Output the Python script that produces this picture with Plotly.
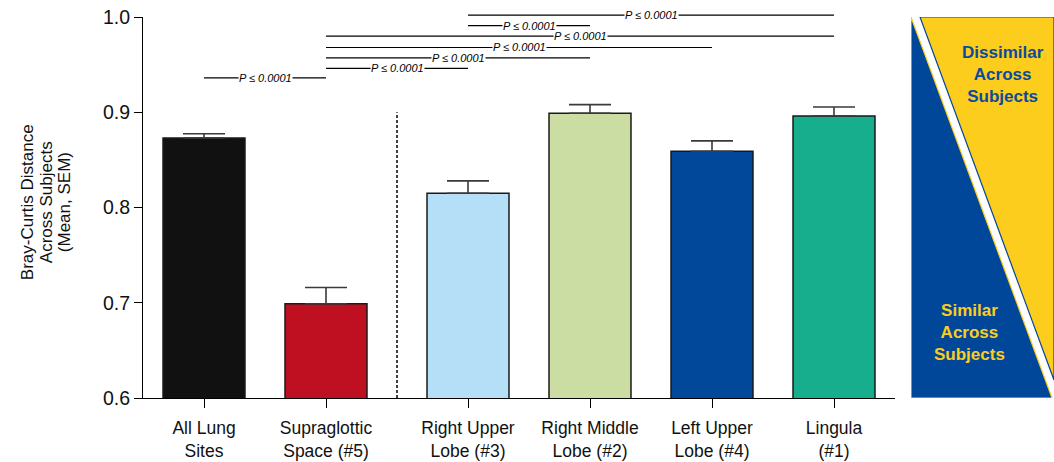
import plotly.graph_objects as go

# Sampling sites, mean Bray-Curtis distance across subjects and SEM
sites = ["All Lung<br>Sites", "Supraglottic<br>Space (#5)", "Right Upper<br>Lobe (#3)",
         "Right Middle<br>Lobe (#2)", "Left Upper<br>Lobe (#4)", "Lingula<br>(#1)"]
mean_distance = [0.873, 0.699, 0.815, 0.899, 0.859, 0.896]
sem_distance = [0.0045, 0.017, 0.013, 0.009, 0.011, 0.0095]
bar_colors = ["#111111", "#be1020", "#b4dff6", "#cbdda3", "#02489a", "#16ae8c"]

# Pairwise comparisons (indices into sites) and bracket heights
cmp_left = [0, 1, 1, 1, 1, 2, 2]
cmp_right = [1, 2, 3, 4, 5, 3, 5]
cmp_height = [0.936, 0.946, 0.957, 0.968, 0.980, 0.991, 1.002]
cmp_label = "P ≤ 0.0001"

y_ticks = [0.6, 0.7, 0.8, 0.9, 1.0]
y_min, y_max = 0.6, 1.0

FONT = "Arial, 'Liberation Sans', Helvetica, sans-serif"
BLUE = "#00479a"
YELLOW = "#fccd1d"

# Extra space between the reference groups and the lobes
gap = 0.164
xpos = [i + (gap if i >= 2 else 0) for i in range(len(sites))]

fig = go.Figure()
fig.add_trace(go.Bar(
    x=xpos, y=mean_distance, base=0,
    width=0.672,
    marker=dict(color=bar_colors, line=dict(color="#1a1a1a", width=1.5)),
    error_y=dict(type="data", symmetric=False, array=sem_distance,
                 arrayminus=[0] * len(sem_distance),
                 color="#3a3a3a", thickness=1.6, width=21),
    showlegend=False,
))

shapes = []
annotations = []

# Dashed separator between groups
sep_x = (xpos[1] + xpos[2]) / 2
shapes.append(dict(type="line", xref="x", yref="y", x0=sep_x, x1=sep_x, y0=y_min, y1=0.9,
                   line=dict(color="black", width=1.5, dash="3px,2px")))

# Significance brackets
for a, b, h in zip(cmp_left, cmp_right, cmp_height):
    yp = (h - y_min) / (y_max - y_min)
    shapes.append(dict(type="line", xref="x", yref="paper", x0=xpos[a], x1=xpos[b],
                       y0=yp, y1=yp, line=dict(color="black", width=1.2)))
    annotations.append(dict(xref="x", yref="paper", x=(xpos[a] + xpos[b]) / 2, y=yp,
                            xanchor="center", yanchor="middle",
                            text="<i>" + cmp_label + "</i>", showarrow=False,
                            bgcolor="white", borderpad=0,
                            font=dict(family=FONT, size=11, color="black")))

# Y-axis title, three rotated lines
for line, px in zip(["Bray-Curtis Distance", "Across Subjects", "(Mean, SEM)"], [27, 46, 64]):
    annotations.append(dict(xref="paper", yref="paper", x=0, xshift=px - 143, y=0.514,
                            text=line, textangle=-90, showarrow=False,
                            xanchor="center", yanchor="middle",
                            font=dict(family=FONT, size=17, color="#111111")))

# Side panel: similar / dissimilar triangles
shapes.append(dict(type="path", xref="x2", yref="y2", path="M 0,1 L 0,0 L 0.986,0 Z",
                   fillcolor=BLUE, line=dict(color=YELLOW, width=1.2)))
shapes.append(dict(type="path", xref="x2", yref="y2", path="M 0.063,1 L 1.0,1 L 1.0,0.047 Z",
                   fillcolor=YELLOW, line=dict(color=BLUE, width=1.2)))
annotations.append(dict(xref="x2", yref="y2", x=0.643, y=0.85,
                        text="Dissimilar<br>Across<br>Subjects", showarrow=False,
                        font=dict(family=FONT, size=17, color="#0b4a9c", weight="bold")))
annotations.append(dict(xref="x2", yref="y2", x=0.406, y=0.171,
                        text="Similar<br>Across<br>Subjects", showarrow=False,
                        font=dict(family=FONT, size=17, color=YELLOW, weight="bold")))

fig.update_layout(
    width=1054, height=462,
    margin=dict(l=143, r=0, t=17, b=64),
    paper_bgcolor="white", plot_bgcolor="white",
    font=dict(family=FONT, color="#111111"),
    shapes=shapes, annotations=annotations,
    xaxis=dict(domain=[0, 752 / 911], range=[-0.5, xpos[-1] + 0.5],
               tickvals=xpos, ticktext=sites, ticks="outside", ticklen=9,
               ticklabelstandoff=5,
               tickcolor="black", tickwidth=1.2, showline=True, linecolor="black",
               linewidth=1.2, showgrid=False, zeroline=False,
               tickfont=dict(family=FONT, size=17.5, color="#111111")),
    yaxis=dict(range=[y_min, y_max], tickvals=y_ticks, tickformat=".1f",
               ticks="outside", ticklen=8, tickcolor="black", tickwidth=1.2,
               showline=True, linecolor="black", linewidth=1.2,
               showgrid=False, zeroline=False,
               tickfont=dict(family=FONT, size=19.5, color="#111111")),
    xaxis2=dict(domain=[768 / 911, 1], range=[0, 1], anchor="y2", visible=False, fixedrange=True),
    yaxis2=dict(domain=[0, 1], range=[0, 1], anchor="x2", visible=False, fixedrange=True),
)

fig.write_html("out.html")
